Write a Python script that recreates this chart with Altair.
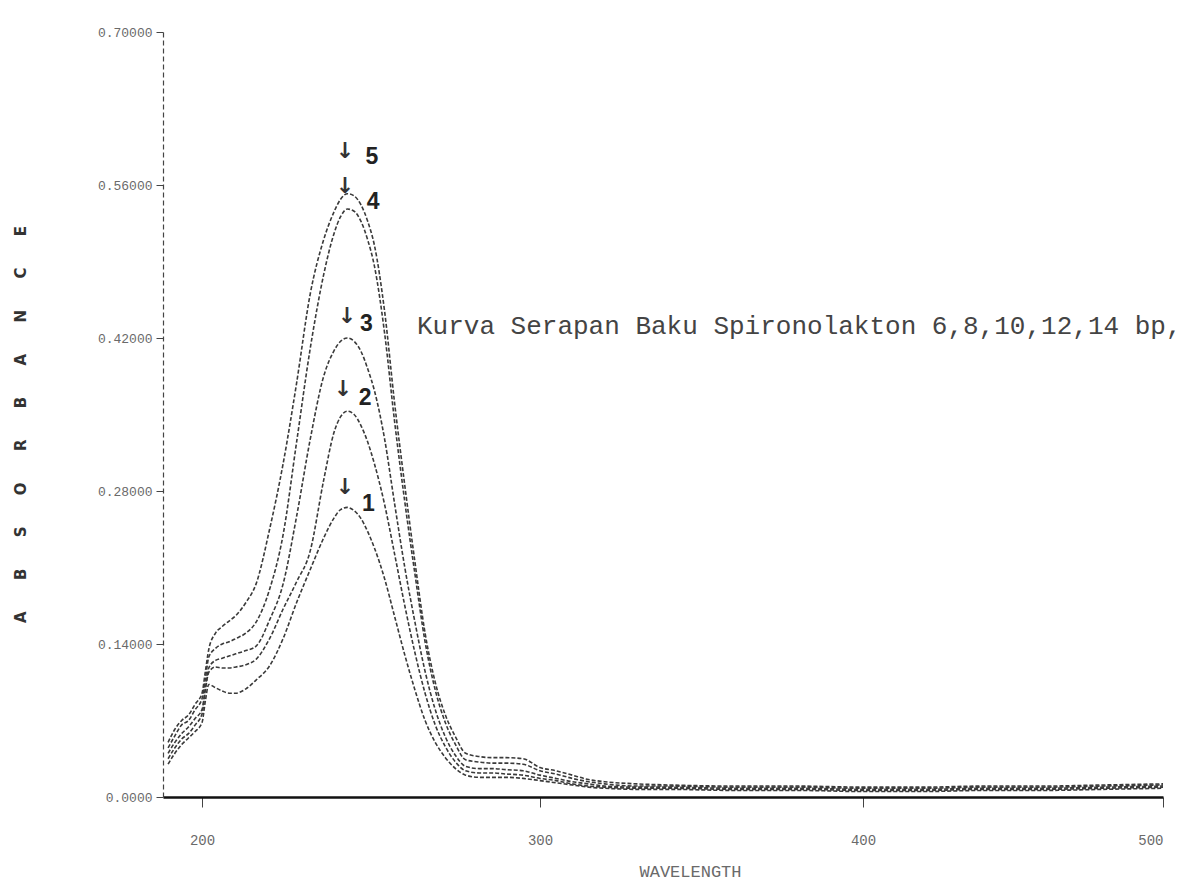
import altair as alt
import pandas as pd

# ---------------- data ----------------
WAVELENGTH = [190, 192, 194, 196, 198, 200, 201, 202, 204, 206, 208, 210, 213, 216,
              220, 224, 228, 232, 236, 239, 241, 243, 245, 247, 249, 251, 254, 257,
              260, 263, 266, 269, 272, 275, 278, 282, 286, 290, 295, 300, 305, 310,
              315, 320, 330, 340, 360, 380, 400, 420, 440, 460, 480, 500]

CURVE_1 = [0.030, 0.040, 0.048, 0.054, 0.060, 0.068, 0.088, 0.103, 0.100, 0.097, 0.095, 0.095, 0.099, 0.107,
           0.120, 0.145, 0.178, 0.208, 0.237, 0.255, 0.263, 0.265, 0.262, 0.255, 0.243, 0.228, 0.200, 0.165,
           0.130, 0.098, 0.070, 0.050, 0.036, 0.026, 0.020, 0.018, 0.018, 0.018, 0.017, 0.015, 0.013, 0.011,
           0.009, 0.008, 0.007, 0.007, 0.006, 0.006, 0.005, 0.005, 0.006, 0.006, 0.007, 0.008]
CURVE_2 = [0.035, 0.045, 0.053, 0.058, 0.066, 0.076, 0.098, 0.114, 0.119, 0.118, 0.118, 0.119, 0.121, 0.126,
           0.145, 0.172, 0.197, 0.225, 0.290, 0.333, 0.348, 0.353, 0.350, 0.340, 0.325, 0.305, 0.268, 0.222,
           0.175, 0.132, 0.095, 0.066, 0.046, 0.032, 0.024, 0.022, 0.022, 0.021, 0.020, 0.017, 0.015, 0.012,
           0.010, 0.009, 0.008, 0.008, 0.007, 0.007, 0.006, 0.006, 0.007, 0.007, 0.008, 0.009]
CURVE_3 = [0.040, 0.050, 0.058, 0.064, 0.072, 0.080, 0.100, 0.118, 0.125, 0.127, 0.129, 0.131, 0.134, 0.138,
           0.162, 0.195, 0.257, 0.327, 0.385, 0.408, 0.417, 0.420, 0.417, 0.408, 0.392, 0.372, 0.328, 0.268,
           0.210, 0.160, 0.115, 0.080, 0.055, 0.038, 0.028, 0.026, 0.026, 0.025, 0.024, 0.020, 0.017, 0.014,
           0.012, 0.010, 0.009, 0.009, 0.008, 0.008, 0.007, 0.007, 0.008, 0.008, 0.009, 0.010]
CURVE_4 = [0.045, 0.056, 0.066, 0.070, 0.080, 0.090, 0.108, 0.128, 0.136, 0.140, 0.142, 0.145, 0.150, 0.160,
           0.190, 0.240, 0.325, 0.410, 0.478, 0.515, 0.531, 0.538, 0.536, 0.527, 0.510, 0.486, 0.425, 0.343,
           0.270, 0.204, 0.142, 0.098, 0.068, 0.048, 0.034, 0.032, 0.031, 0.031, 0.030, 0.024, 0.021, 0.017,
           0.014, 0.012, 0.010, 0.010, 0.009, 0.009, 0.008, 0.008, 0.009, 0.009, 0.010, 0.011]
CURVE_5 = [0.050, 0.062, 0.070, 0.075, 0.085, 0.095, 0.115, 0.135, 0.150, 0.156, 0.161, 0.166, 0.178, 0.195,
           0.245, 0.305, 0.379, 0.460, 0.510, 0.535, 0.547, 0.552, 0.550, 0.542, 0.527, 0.505, 0.445, 0.360,
           0.285, 0.215, 0.150, 0.105, 0.075, 0.055, 0.040, 0.037, 0.036, 0.036, 0.035, 0.027, 0.024, 0.020,
           0.016, 0.014, 0.012, 0.011, 0.010, 0.010, 0.009, 0.009, 0.010, 0.010, 0.011, 0.012]

CURVE_NAMES = ["1", "2", "3", "4", "5"]
CURVES = [CURVE_1, CURVE_2, CURVE_3, CURVE_4, CURVE_5]

# peak markers: arrow position and number position (data units)
ARROW_WL = [242.3, 241.7, 242.9, 242.3, 242.3]
ARROW_ABS = [0.284, 0.373, 0.440, 0.559, 0.591]
LABEL_WL = [249.2, 248.3, 248.6, 250.6, 250.3]
LABEL_ABS = [0.2685, 0.3647, 0.4325, 0.544, 0.5855]

NOTE_TEXT = ["Kurva Serapan Baku Spironolakton 6,8,10,12,14 bp,"]
NOTE_WL = [263.6]
NOTE_ABS = [0.431]

X_TICKS = [200, 300, 400, 500]
Y_TICKS = [0.0, 0.14, 0.28, 0.42, 0.56, 0.70]

# ---------------- tables ----------------
rows = []
for name, vals in zip(CURVE_NAMES, CURVES):
    for w, v in zip(WAVELENGTH, vals):
        rows.append({"curve": name, "wavelength": w, "absorbance": v})
df = pd.DataFrame(rows)

arrows = pd.DataFrame({"wavelength": ARROW_WL, "absorbance": ARROW_ABS, "t": ["\u2193"] * 5})
labels = pd.DataFrame({"wavelength": LABEL_WL, "absorbance": LABEL_ABS, "t": CURVE_NAMES})
note = pd.DataFrame({"wavelength": NOTE_WL, "absorbance": NOTE_ABS, "t": NOTE_TEXT})

# the printed wavelength axis is not evenly spaced: piecewise scale through the ticks
x_scale = alt.Scale(domain=[188.5, 200, 300, 400, 500], range=[0, 39, 377, 700, 1000],
                    nice=False, zero=False, clamp=True)
y_scale = alt.Scale(domain=[0, 0.70], nice=False, zero=False)

sp = "\u00a0" * 6
y_title = sp.join(list("ABSORBANCE"))

x_axis = alt.Axis(values=X_TICKS, grid=False, domainColor="#111", domainWidth=2.5,
                  tickColor="#444", tickSize=10, tickWidth=1,
                  labelFont="Liberation Mono", labelFontSize=14, labelColor="#6a6a6a",
                  labelPadding=26, title="WAVELENGTH", titleFont="Liberation Mono",
                  titleFontSize=17, titleFontWeight="normal", titleColor="#6a6a6a",
                  titleX=527, titleY=74, titleBaseline="middle")
y_axis = alt.Axis(values=Y_TICKS, grid=False, domainColor="#444", domainWidth=1.2,
                  domainDash=[5, 3], tickColor="#444", tickSize=7,
                  labelExpr="datum.value == 0 ? '0.0000' : format(datum.value, '.5f')",
                  labelFont="Liberation Mono", labelFontSize=13, labelColor="#6a6a6a",
                  labelPadding=4, title=y_title, titleAngle=270, titleX=-143, titleY=392,
                  titleFont="DejaVu Sans", titleFontSize=15, titleFontWeight="bold",
                  titleColor="#333", titleBaseline="middle")

lines = alt.Chart(df).mark_line(strokeDash=[4, 2], strokeWidth=1.6, color="#3a3a3a",
                                interpolate="monotone").encode(
    x=alt.X("wavelength:Q", scale=x_scale, axis=x_axis),
    y=alt.Y("absorbance:Q", scale=y_scale, axis=y_axis),
    detail="curve:N",
)

arrow_marks = alt.Chart(arrows).mark_text(font="DejaVu Sans", fontSize=22, fontWeight="bold",
                                          color="#333", baseline="middle", align="center").encode(
    x=alt.X("wavelength:Q", scale=x_scale), y=alt.Y("absorbance:Q", scale=y_scale), text="t:N")

label_marks = alt.Chart(labels).mark_text(font="Liberation Sans", fontSize=23, fontWeight="bold",
                                          color="#222", baseline="middle", align="center").encode(
    x=alt.X("wavelength:Q", scale=x_scale), y=alt.Y("absorbance:Q", scale=y_scale), text="t:N")

note_mark = alt.Chart(note).mark_text(font="Liberation Mono", fontSize=26, color="#444",
                                      baseline="middle", align="left").encode(
    x=alt.X("wavelength:Q", scale=x_scale), y=alt.Y("absorbance:Q", scale=y_scale), text="t:N")

chart = alt.layer(lines, arrow_marks, label_marks, note_mark).properties(
    width=1000, height=765,
    autosize=alt.AutoSizeParams(type="none"),
    padding={"left": 155, "top": 24, "right": 21, "bottom": 90},
    background="white",
).configure_view(stroke=None)

chart.save("out.html", embed_options={"renderer": "svg", "actions": False})
